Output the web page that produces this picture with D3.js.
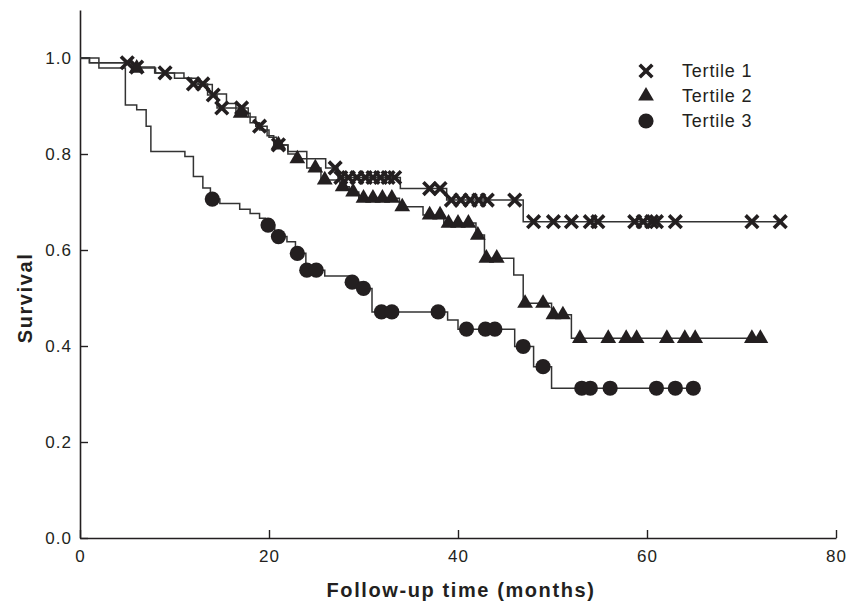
<!DOCTYPE html>
<html>
<head>
<meta charset="utf-8">
<script src="https://cdn.jsdelivr.net/npm/d3@7"></script>
<style>
  body { margin: 0; background: #fff; }
  svg { display: block; font-family: "Liberation Sans", Arial, sans-serif; }
</style>
</head>
<body>
<svg id="chart"></svg>
<script>
// Kaplan-Meier curves: event times with survival after the drop,
// and censoring times (marks sit on the curve).
const t1EventTimes = [2, 5.5, 7.9, 11, 11.8, 13.5, 14.5, 17.8, 18.6, 19.8, 20.5, 22, 24, 26, 27.3, 33.9, 38.8, 46.9];
const t1EventSurv  = [0.99, 0.981, 0.969, 0.958, 0.946, 0.923, 0.896, 0.877, 0.858, 0.838, 0.819, 0.805, 0.79, 0.771, 0.751, 0.728, 0.704, 0.659];
const t1CensorTimes = [5, 6, 9, 12, 13, 14.1, 15, 17.1, 19, 21, 27, 27.6, 28.4, 29.3, 30.2, 31, 31.8, 32.6, 33.3,
  37, 38.1, 39.3, 40.3, 41.3, 42.2, 43.1, 46, 48, 50.1, 52, 54, 54.8, 58.7, 59.6, 60.5, 61, 63, 71.1, 74.1];

const t2EventTimes = [1, 5.5, 8, 10, 12.5, 14, 15.5, 16.5, 18, 19, 20, 20.8, 22, 22.8, 24, 25.5, 27.5, 28.5, 29.5,
  33.8, 36.3, 38.5, 41.9, 42.8, 45.9, 46.9, 49.9, 52];
const t2EventSurv  = [0.99, 0.979, 0.969, 0.958, 0.945, 0.925, 0.905, 0.885, 0.865, 0.85, 0.835, 0.819, 0.80, 0.79, 0.771, 0.746, 0.732, 0.721, 0.708,
  0.69, 0.673, 0.656, 0.631, 0.583, 0.548, 0.489, 0.465, 0.416];
const t2CensorTimes = [6, 17, 21, 23, 24.9, 25.9, 27.8, 28.9, 30, 31, 32, 33, 34.1, 37, 38.1, 39, 40, 41.1, 42.1, 43, 44.1,
  47.1, 49, 50.1, 51.1, 52.9, 55.9, 57.8, 58.9, 62.1, 64, 65.1, 71.1, 72];

const t3EventTimes = [1, 2, 4.8, 6, 7, 7.5, 11.1, 12, 13, 13.8, 14.8, 16.9, 18, 19, 19.6, 20.6, 21.9, 22.8, 23.9, 25.9,
  28.5, 29.8, 30.9, 38.9, 40, 46, 48, 49.9];
const t3EventSurv  = [0.99, 0.979, 0.902, 0.892, 0.858, 0.805, 0.795, 0.753, 0.729, 0.706, 0.697, 0.685, 0.676, 0.666, 0.652, 0.628, 0.617, 0.593, 0.558, 0.546,
  0.533, 0.52, 0.471, 0.454, 0.435, 0.399, 0.357, 0.312];
const t3CensorTimes = [14, 19.9, 21, 23, 24, 25, 28.8, 30, 31.9, 33, 37.9, 40.9, 42.9, 43.9, 46.9, 49, 53.1, 54, 56.1, 61, 63, 64.9];

const seriesNames = ["Tertile 1", "Tertile 2", "Tertile 3"];
const xTicks = [0, 20, 40, 60, 80];
const yTicks = [0, 0.2, 0.4, 0.6, 0.8, 1.0];

const width = 847, height = 604;
const ink = "#231f20";

const series = [
  {name: seriesNames[0], times: t1EventTimes, surv: t1EventSurv, cens: t1CensorTimes, mark: "x"},
  {name: seriesNames[1], times: t2EventTimes, surv: t2EventSurv, cens: t2CensorTimes, mark: "triangle"},
  {name: seriesNames[2], times: t3EventTimes, surv: t3EventSurv, cens: t3CensorTimes, mark: "circle"}
];

const svg = d3.select("#chart").attr("width", width).attr("height", height);
svg.append("rect").attr("width", width).attr("height", height).attr("fill", "#fff");

const x = d3.scaleLinear().domain([0, 80]).range([80, 836]);
const y = d3.scaleLinear().domain([0, 1.1]).range([538, 10]);

// survival value of the step function at time t
const survAt = (s, t) => {
  const i = d3.bisectRight(s.times, t);
  return i === 0 ? 1 : s.surv[i - 1];
};

const line = d3.line()
  .x(d => x(d[0]))
  .y(d => y(d[1]))
  .curve(d3.curveStepAfter);

const markPath = (kind) => {
  if (kind === "x") return "M-6.3,-6.3L6.3,6.3M-6.3,6.3L6.3,-6.3";
  if (kind === "triangle") return d3.symbol(d3.symbolTriangle, 108)();
  return d3.symbol(d3.symbolCircle, Math.PI * 7.6 * 7.6)();
};

const drawMark = (g, kind) => {
  const p = g.append("path").attr("d", markPath(kind));
  if (kind === "x") {
    p.attr("fill", "none").attr("stroke", ink).attr("stroke-width", 3.6);
  } else {
    p.attr("fill", ink);
  }
  return p;
};

// axes
const xAxis = d3.axisBottom(x).tickValues(xTicks).tickSizeInner(-8).tickSizeOuter(0).tickPadding(12);
const yAxis = d3.axisLeft(y).tickValues(yTicks).tickSizeInner(-8).tickSizeOuter(0).tickPadding(8)
  .tickFormat(d3.format(".1f"));

const gx = svg.append("g").attr("transform", `translate(0,${y(0)})`).call(xAxis);
const gy = svg.append("g").attr("transform", `translate(${x(0)},0)`).call(yAxis);

[gx, gy].forEach(g => {
  g.select(".domain").attr("stroke", ink).attr("stroke-width", 1.6);
  g.selectAll(".tick line").attr("stroke", ink).attr("stroke-width", 1.4);
  g.selectAll(".tick text")
    .attr("fill", ink)
    .style("font-size", "17px")
    .style("letter-spacing", "1px");
});

// curves
const plot = svg.append("g");
series.forEach(s => {
  const last = d3.max(s.cens.concat(s.times));
  const pts = [[0, 1]].concat(s.times.map((t, i) => [t, s.surv[i]]), [[last, s.surv[s.surv.length - 1]]]);
  plot.append("path")
    .attr("d", line(pts))
    .attr("fill", "none")
    .attr("stroke", "#333")
    .attr("stroke-width", 1.5);
});

series.forEach(s => {
  plot.selectAll(null)
    .data(s.cens)
    .enter()
    .append("g")
      .attr("transform", t => `translate(${x(t)},${y(survAt(s, t))})`)
      .each(function() { drawMark(d3.select(this), s.mark); });
});

// legend
const legend = svg.append("g").attr("transform", "translate(646,71)");
series.forEach((s, i) => {
  const row = legend.append("g").attr("transform", `translate(0,${i * 25})`);
  drawMark(row.append("g"), s.mark);
  row.append("text")
    .attr("x", 36)
    .attr("y", 6)
    .attr("fill", ink)
    .style("font-size", "18px")
    .style("letter-spacing", "0.8px")
    .text(s.name);
});

// axis titles
svg.append("text")
  .attr("x", 461)
  .attr("y", 597)
  .attr("text-anchor", "middle")
  .attr("fill", ink)
  .style("font-size", "20px")
  .style("font-weight", "bold")
  .style("letter-spacing", "1.6px")
  .text("Follow-up time (months)");

svg.append("text")
  .attr("transform", `translate(32,${y(0.5)}) rotate(-90)`)
  .attr("text-anchor", "middle")
  .attr("fill", ink)
  .style("font-size", "20px")
  .style("font-weight", "bold")
  .style("letter-spacing", "1.6px")
  .text("Survival");
</script>
</body>
</html>
